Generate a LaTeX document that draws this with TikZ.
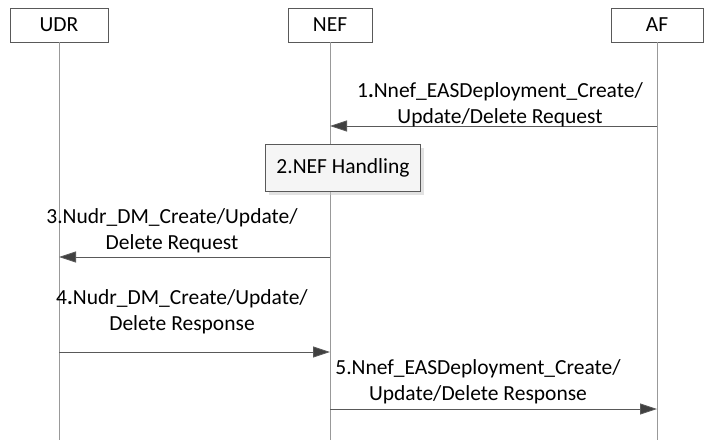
\documentclass[tikz,border=0pt]{standalone}
\usepackage{fontspec}
\setmainfont{Carlito}
\usetikzlibrary{arrows.meta,shadows}
\definecolor{linegray}{HTML}{595959}
\definecolor{tipgray}{HTML}{404040}
\begin{document}
\begin{tikzpicture}[x=1pt,y=-1pt,
	font=\fontsize{21.5}{25.5}\selectfont,
	head/.style={draw=linegray,fill=white,minimum height=34pt,inner sep=0pt},
	life/.style={draw=gray!80,line width=0.8pt},
	msg/.style={draw=linegray,line width=0.8pt,-{Triangle[length=17pt,width=11pt,fill=tipgray]}},
	lbl/.style={align=center,inner sep=0pt},
	proc/.style={draw=linegray,fill=gray!8,minimum width=155pt,minimum height=47pt,drop shadow={shadow xshift=3pt,shadow yshift=-3pt,fill=gray!45}}]
	\useasboundingbox (0,0) rectangle (704,440);

	\node[head,minimum width=98pt] at (59,25) (udr) {UDR};
	\node[head,minimum width=84pt] at (330,25) (nef) {NEF};
	\node[head,minimum width=92pt] at (657,25) (af) {AF};
	\foreach \n/\x in {udr/59,nef/330,af/657}
		\coordinate (\n b) at (\x,440);
	\foreach \n in {udr,nef,af}
		\draw[life] (\n) -- (\n b);

	% request from AF
	\coordinate (af1) at (657,126);
	\coordinate (nef1) at (330,126);
	\draw[msg] (af1) -- (nef1);
	\node[lbl] at (500,105) (m1) {1\textbf{.}Nnef\_EASDeployment\_Create/\\Update/Delete Request};

	\node[proc] at (343,168) (hdl) {2.NEF Handling};

	\coordinate (nef3) at (330,257);
	\coordinate (udr3) at (59,257);
	\draw[msg] (nef3) -- (udr3);
	\node[lbl] at (172,231) (m3) {3.Nudr\_DM\_Create/Update/\\Delete Request};

	\coordinate (udr4) at (59,352);
	\coordinate (nef4) at (330,352);
	\draw[msg] (udr4) -- (nef4);
	\node[lbl] at (182,312) (m4) {4\textbf{.}Nudr\_DM\_Create/Update/\\Delete Response};

	% response to AF
	\coordinate (nef5) at (330,409);
	\coordinate (af5) at (657,409);
	\draw[msg] (nef5) -- (af5);
	\node[lbl] at (478,382) (m5) {5.Nnef\_EASDeployment\_Create/\\Update/Delete Response};
\end{tikzpicture}
\end{document}
